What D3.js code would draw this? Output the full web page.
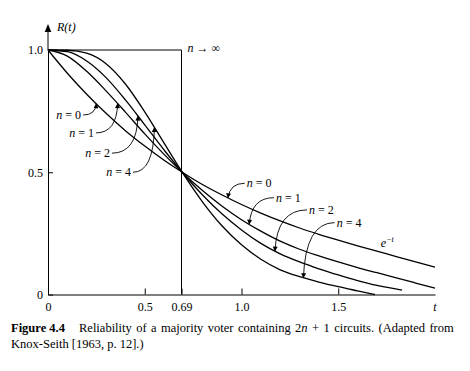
<!DOCTYPE html>
<html>
  <head>
    <meta charset="utf-8" />
    <script src="https://d3js.org/d3.v7.min.js"></script>
    <style>
      body { margin: 0; background: #fff; }
      svg text { font-family: "Liberation Serif", "DejaVu Serif", serif; fill: #000; }
    </style>
  </head>
  <body>
    <svg id="chart"></svg>

    <script>
      // Reliability R(t), as [t, R] pairs
      var n0 = [[0,1],[0.1,0.905],[0.2,0.819],[0.3,0.741],[0.4,0.670],[0.5,0.607],[0.6,0.549],[0.7,0.497],[0.8,0.449],[0.9,0.407],[1.0,0.368],[1.1,0.333],[1.2,0.301],[1.3,0.272],[1.4,0.246],[1.5,0.222],[1.6,0.199],[1.7,0.177],[1.8,0.155],[1.9,0.133],[2.0,0.112]];
      var n1 = [[0,1],[0.1,0.975],[0.2,0.913],[0.3,0.833],[0.4,0.746],[0.5,0.657],[0.6,0.573],[0.7,0.495],[0.8,0.424],[0.9,0.361],[1.0,0.306],[1.1,0.259],[1.2,0.218],[1.3,0.185],[1.4,0.158],[1.5,0.133],[1.6,0.110],[1.7,0.089],[1.8,0.068],[1.9,0.047],[2.0,0.026]];
      var n2 = [[0,1],[0.1,0.993],[0.2,0.955],[0.3,0.887],[0.4,0.796],[0.5,0.694],[0.6,0.591],[0.7,0.494],[0.8,0.406],[0.9,0.329],[1.0,0.264],[1.1,0.209],[1.2,0.166],[1.3,0.133],[1.4,0.105],[1.5,0.080],[1.6,0.057],[1.7,0.037],[1.83,0.018]];
      var n4 = [[0,1],[0.1,0.999],[0.2,0.987],[0.3,0.944],[0.4,0.861],[0.5,0.747],[0.6,0.619],[0.7,0.492],[0.8,0.377],[0.9,0.280],[1.0,0.203],[1.1,0.144],[1.2,0.101],[1.3,0.073],[1.4,0.051],[1.5,0.032],[1.6,0.015],[1.69,0]];

      // n -> infinity step: R = 1 until t = 0.69, then 0
      var stepT = 0.69;

      var xTicks = [0, 0.5, 0.69, 1.0, 1.5];
      var xTickLabels = ["0", "0.5", "0.69", "1.0", "1.5"];
      var yTicks = [0, 0.5, 1.0];
      var yTickLabels = ["0", "0.5", "1.0"];

      // curve labels: n, where the label sits (t, R), and which t the arrow points at
      var leftLabels = [
        { n: "0", series: n0, t: 0.171, r: 0.734, tipT: 0.25 },
        { n: "1", series: n1, t: 0.238, r: 0.661, tipT: 0.36 },
        { n: "2", series: n2, t: 0.320, r: 0.578, tipT: 0.465 },
        { n: "4", series: n4, t: 0.429, r: 0.500, tipT: 0.55 }
      ];
      var rightLabels = [
        { n: "0", series: n0, t: 1.027, r: 0.455, tipT: 0.93 },
        { n: "1", series: n1, t: 1.178, r: 0.396, tipT: 1.04 },
        { n: "2", series: n2, t: 1.349, r: 0.346, tipT: 1.173 },
        { n: "4", series: n4, t: 1.492, r: 0.294, tipT: 1.32 }
      ];

      var width = 470;
      var height = 371;

      var svg = d3.select("#chart").attr("width", width).attr("height", height);

      var x = d3.scaleLinear().domain([0, 2]).range([48, 435]);
      var y = d3.scaleLinear().domain([0, 1]).range([294.5, 50]);

      // arrow head for the label leaders
      svg.append("defs")
        .append("marker")
        .attr("id", "head")
        .attr("viewBox", "0 0 10 10")
        .attr("refX", 9)
        .attr("refY", 5)
        .attr("markerUnits", "userSpaceOnUse")
        .attr("markerWidth", 6)
        .attr("markerHeight", 5)
        .attr("orient", "auto")
        .append("path")
        .attr("d", "M0,0L10,5L0,10z")
        .attr("fill", "#000");

      // x axis
      var xAxis = svg.append("g")
        .attr("transform", "translate(0," + y(0) + ")")
        .call(d3.axisBottom(x)
          .tickValues(xTicks)
          .tickSizeInner(-6)
          .tickSizeOuter(0)
          .tickPadding(8)
          .tickFormat(function (d, i) { return xTickLabels[i]; }));
      xAxis.selectAll("text").style("font-size", "12px");

      // y axis
      var yAxis = svg.append("g")
        .attr("transform", "translate(" + x(0) + ",0)")
        .call(d3.axisLeft(y)
          .tickValues(yTicks)
          .tickSizeInner(-5)
          .tickSizeOuter(0)
          .tickPadding(5)
          .tickFormat(function (d, i) { return yTickLabels[i]; }));
      yAxis.selectAll("text").style("font-size", "12px");
      svg.selectAll(".domain, .tick line").attr("stroke", "#000").attr("stroke-width", 1);

      // y axis continues up to an arrow
      svg.append("line")
        .attr("x1", x(0)).attr("x2", x(0))
        .attr("y1", y(1)).attr("y2", 30)
        .attr("stroke", "#000");
      svg.append("path")
        .attr("d", "M" + x(0) + ",24L" + (x(0) - 3.3) + ",32L" + (x(0) + 3.3) + ",32z")
        .attr("fill", "#000");

      svg.append("text")
        .attr("x", x(0) + 9)
        .attr("y", 31)
        .style("font-size", "12px")
        .style("font-style", "italic")
        .text("R(t)");

      svg.append("text")
        .attr("x", x(2))
        .attr("y", y(0) + 16.5)
        .attr("text-anchor", "middle")
        .style("font-size", "12px")
        .style("font-style", "italic")
        .text("t");

      // n -> infinity step
      svg.append("path")
        .attr("d", "M" + x(0) + "," + y(1) + "H" + x(stepT) + "V" + y(0))
        .attr("fill", "none")
        .attr("stroke", "#000")
        .attr("stroke-width", 1);

      var inf = svg.append("text")
        .attr("x", x(stepT) + 6)
        .attr("y", y(1) + 2)
        .style("font-size", "12px");
      inf.append("tspan").style("font-style", "italic").text("n");
      inf.append("tspan").text(" \u2192 \u221e");

      // curves
      var line = d3.line()
        .x(function (d) { return x(d[0]); })
        .y(function (d) { return y(d[1]); })
        .curve(d3.curveMonotoneX);

      svg.append("g")
        .selectAll("path")
        .data([n0, n1, n2, n4])
        .join("path")
        .attr("d", line)
        .attr("fill", "none")
        .attr("stroke", "#000")
        .attr("stroke-width", 1.3);

      // R on a series at time t (between read points)
      function valueAt(series, t) {
        for (var i = 1; i < series.length; i++) {
          if (series[i][0] >= t) {
            var a = series[i - 1], b = series[i];
            return a[1] + (b[1] - a[1]) * (t - a[0]) / (b[0] - a[0]);
          }
        }
        return series[series.length - 1][1];
      }

      function addLabel(d, side) {
        var lx = x(d.t), ly = y(d.r);
        var tx = x(d.tipT), ty = y(valueAt(d.series, d.tipT));
        var lab = svg.append("text")
          .attr("x", lx)
          .attr("y", ly)
          .attr("dy", "0.35em")
          .attr("text-anchor", side === "left" ? "end" : "start")
          .style("font-size", "12px");
        lab.append("tspan").style("font-style", "italic").text("n");
        lab.append("tspan").text(" = " + d.n);

        var sx = side === "left" ? lx + 2 : lx - 2;
        var cx = side === "left" ? tx - 1 : tx + 2;
        svg.append("path")
          .attr("d", "M" + sx + "," + ly + "Q" + cx + "," + ly + " " + tx + "," + ty)
          .attr("fill", "none")
          .attr("stroke", "#000")
          .attr("stroke-width", 0.9)
          .attr("marker-end", "url(#head)");
      }

      leftLabels.forEach(function (d) { addLabel(d, "left"); });
      rightLabels.forEach(function (d) { addLabel(d, "right"); });

      // e^-t label
      var et = svg.append("text")
        .attr("x", x(1.72))
        .attr("y", y(0.195))
        .style("font-size", "12px")
        .style("font-style", "italic");
      et.append("tspan").text("e");
      et.append("tspan").attr("dy", -5).style("font-size", "8px").text("\u2212t");

      // caption
      var cap1 = svg.append("text").attr("x", 11).attr("y", 331.5).style("font-size", "12.5px");
      cap1.append("tspan").style("font-weight", "bold").text("Figure 4.4");
      var body1 = cap1.append("tspan").attr("x", 79).style("word-spacing", "1.3px");
      body1.append("tspan").text("Reliability of a majority voter containing 2");
      body1.append("tspan").style("font-style", "italic").text("n");
      body1.append("tspan").text(" + 1 circuits. (Adapted from");
      svg.append("text")
        .attr("x", 11)
        .attr("y", 347.5)
        .style("font-size", "12.5px")
        .text("Knox-Seith [1963, p. 12].)");
    </script>
  </body>
</html>
